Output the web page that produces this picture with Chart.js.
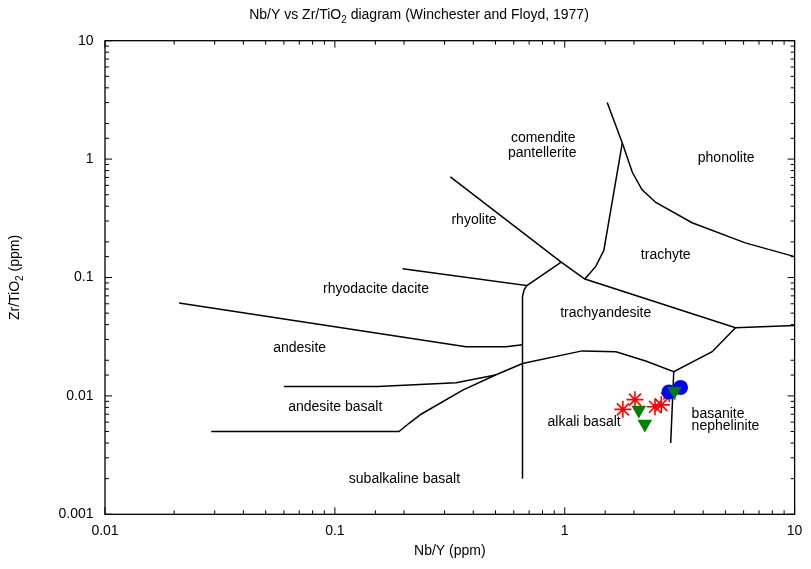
<!DOCTYPE html>
<html>
<head>
<meta charset="utf-8">
<script src="https://cdn.jsdelivr.net/npm/chart.js@4.4.1/dist/chart.umd.min.js"></script>
<style>
  html, body { margin: 0; padding: 0; background: #fff; }
</style>
</head>
<body>
<canvas id="diagram" width="811" height="569"></canvas>
<script>
// sample points (Nb/Y, Zr/TiO2)
const starNbY = [1.79, 2.02, 2.47, 2.63, 2.85];
const starZrTi = [0.0077, 0.0093, 0.0081, 0.0084, 0.0105];
const circleNbY = [2.84, 3.19];
const circleZrTi = [0.0108, 0.0118];
const triNbY = [2.10, 2.23, 3.0];
const triZrTi = [0.0076, 0.0058, 0.011];

// field boundaries, [Nb/Y, Zr/TiO2] vertices
const rhyoliteLine = [[0.318, 0.708], [0.965, 0.135], [1.223, 0.097], [5.53, 0.0377], [10, 0.0393]];
const rhyodaciteLine = [[0.197, 0.1185], [0.684, 0.0855], [0.666, 0.079], [0.655, 0.069], [0.655, 0.002]];
const rhyodaciteLink = [[0.684, 0.0855], [0.965, 0.135]];
const andesiteLine = [[0.021, 0.061], [0.372, 0.026], [0.555, 0.026], [0.655, 0.027]];
const subalkalineLine = [[0.029, 0.005], [0.19, 0.005], [0.211, 0.0059], [0.237, 0.007], [0.36, 0.0112],
  [0.50, 0.015], [0.655, 0.0188], [1.19, 0.024], [1.67, 0.0236], [2.25, 0.0197], [2.98, 0.016],
  [4.38, 0.0236], [5.53, 0.0377]];
const andesiteBasaltLine = [[0.06, 0.012], [0.154, 0.012], [0.337, 0.0129], [0.50, 0.015]];
const basaniteLine = [[2.98, 0.016], [2.89, 0.004]];
const trachyteLine = [[1.223, 0.097], [1.365, 0.124], [1.48, 0.17], [1.78, 1.37]];
const phonoliteLine = [[1.53, 3.0], [1.78, 1.37], [1.97, 0.77], [2.17, 0.55], [2.49, 0.43],
  [3.58, 0.29], [6.1, 0.196], [10, 0.15]];
const boundaries = [rhyoliteLine, rhyodaciteLine, rhyodaciteLink, andesiteLine, subalkalineLine,
  andesiteBasaltLine, basaniteLine, trachyteLine, phonoliteLine];

// field names and where they sit
const fieldNames = ['comendite', 'pantellerite', 'phonolite', 'rhyolite', 'trachyte', 'rhyodacite dacite',
  'trachyandesite', 'andesite', 'andesite basalt', 'alkali basalt', 'basanite', 'nephelinite', 'subalkaline basalt'];
const fieldNbY = [0.806, 0.798, 5.04, 0.403, 2.75, 0.151, 1.508, 0.0703, 0.1004, 1.214, 3.564, 3.564, 0.2008];
const fieldZrTi = [1.486, 1.094, 0.992, 0.298, 0.1506, 0.0787, 0.0493, 0.0248, 0.00784, 0.00585, 0.00688, 0.00541, 0.00194];
const fieldAlign = ['center', 'center', 'center', 'center', 'center', 'center', 'center', 'center',
  'center', 'center', 'left', 'left', 'center'];

// title and y label, [text, subscript?]
const titleParts = [['Nb/Y vs Zr/TiO', false], ['2', true], [' diagram (Winchester and Floyd, 1977)', false]];
const yTitleParts = [['Zr/TiO', false], ['2', true], [' (ppm)', false]];

const FONT = '"Liberation Sans", Arial, Helvetica, sans-serif';
Chart.defaults.font.family = FONT;
Chart.defaults.font.size = 14;
Chart.defaults.color = '#000';

function isDecade(v) {
  const e = Math.log10(v);
  return Math.abs(e - Math.round(e)) < 1e-9;
}
function decadeLabel(v) {
  return isDecade(v) ? String(Number(v.toPrecision(1))) : '';
}
function toPoints(xs, ys) {
  return xs.map((x, i) => ({ x: x, y: ys[i] }));
}

// text with a subscript, centred on (0,0) of the current transform, baseline at 0
function drawSubText(ctx, parts) {
  const widths = parts.map(p => {
    ctx.font = (p[1] ? '10px ' : '14px ') + FONT;
    return ctx.measureText(p[0]).width;
  });
  let x = -widths.reduce((a, b) => a + b, 0) / 2;
  ctx.textAlign = 'left';
  ctx.textBaseline = 'alphabetic';
  parts.forEach((p, i) => {
    ctx.font = (p[1] ? '10px ' : '14px ') + FONT;
    ctx.fillText(p[0], x, p[1] ? 3.5 : 0);
    x += widths[i];
  });
}

const titles = {
  id: 'titles',
  afterDraw(chart) {
    const { ctx, chartArea: a } = chart;
    ctx.save();
    ctx.fillStyle = '#000';
    ctx.translate(419, 19);
    drawSubText(ctx, titleParts);
    ctx.restore();
    ctx.save();
    ctx.fillStyle = '#000';
    ctx.translate(19, (a.top + a.bottom) / 2);
    ctx.rotate(-Math.PI / 2);
    drawSubText(ctx, yTitleParts);
    ctx.restore();
  }
};

// gnuplot style frame with inward ticks on all four sides
const frameTicks = {
  id: 'frameTicks',
  afterDraw(chart) {
    const { ctx, chartArea: a, scales: { x, y } } = chart;
    ctx.save();
    ctx.strokeStyle = '#000';
    ctx.lineWidth = 1.3;
    ctx.strokeRect(a.left, a.top, a.right - a.left, a.bottom - a.top);
    ctx.lineWidth = 1;
    ctx.beginPath();
    x.ticks.forEach(t => {
      const px = x.getPixelForValue(t.value);
      const len = isDecade(t.value) ? 7 : 4;
      ctx.moveTo(px, a.bottom); ctx.lineTo(px, a.bottom - len);
      ctx.moveTo(px, a.top); ctx.lineTo(px, a.top + len);
    });
    y.ticks.forEach(t => {
      const py = y.getPixelForValue(t.value);
      const len = isDecade(t.value) ? 7 : 4;
      ctx.moveTo(a.left, py); ctx.lineTo(a.left + len, py);
      ctx.moveTo(a.right, py); ctx.lineTo(a.right - len, py);
    });
    ctx.stroke();
    ctx.restore();
  }
};

// field names drawn at their data positions
const fieldLabels = {
  id: 'fieldLabels',
  afterDatasetsDraw(chart) {
    const { ctx, scales: { x, y } } = chart;
    ctx.save();
    ctx.font = '14px ' + FONT;
    ctx.fillStyle = '#000';
    ctx.textBaseline = 'middle';
    fieldNames.forEach((name, i) => {
      ctx.textAlign = fieldAlign[i];
      ctx.fillText(name, x.getPixelForValue(fieldNbY[i]), y.getPixelForValue(fieldZrTi[i]) - 1);
    });
    ctx.restore();
  }
};

const lineSets = boundaries.map(b => ({
  type: 'line',
  data: b.map(p => ({ x: p[0], y: p[1] })),
  borderColor: '#000',
  borderWidth: 1.5,
  pointRadius: 0,
  fill: false,
  tension: 0,
  order: 10
}));

new Chart(document.getElementById('diagram'), {
  type: 'scatter',
  data: {
    datasets: [
      ...lineSets,
      {
        data: toPoints(starNbY, starZrTi),
        pointStyle: 'star',
        pointRadius: 8.5,
        borderColor: '#ff0000',
        backgroundColor: '#ff0000',
        pointBorderWidth: 1.6,
        order: 3
      },
      {
        data: toPoints(circleNbY, circleZrTi),
        pointStyle: 'circle',
        pointRadius: 7.5,
        borderColor: '#0000ff',
        backgroundColor: '#0000ff',
        pointBorderWidth: 0,
        order: 2
      },
      {
        data: toPoints(triNbY, triZrTi),
        pointStyle: 'triangle',
        rotation: 180,
        pointRadius: 8.5,
        borderColor: '#007f00',
        backgroundColor: '#007f00',
        pointBorderWidth: 0,
        order: 1
      }
    ]
  },
  options: {
    responsive: false,
    animation: false,
    events: [],
    layout: { padding: { left: 0, right: 13.5, top: 40.7, bottom: 0 } },
    plugins: {
      legend: { display: false },
      tooltip: { enabled: false },
      title: { display: false }
    },
    scales: {
      x: {
        type: 'logarithmic',
        min: 0.01,
        max: 10,
        grid: { display: false, drawTicks: false },
        border: { display: false },
        ticks: { autoSkip: false, maxRotation: 0, padding: 8.6, callback: v => decadeLabel(v) },
        title: { display: true, text: 'Nb/Y (ppm)', padding: { top: 0, bottom: 9.6 } },
        afterFit(s) { s.height = 54.7; }
      },
      y: {
        type: 'logarithmic',
        min: 0.001,
        max: 10,
        grid: { display: false, drawTicks: false },
        border: { display: false },
        ticks: { autoSkip: false, padding: 11.5, callback: v => decadeLabel(v) },
        afterFit(s) { s.width = 105; }
      }
    }
  },
  plugins: [fieldLabels, frameTicks, titles]
});
</script>
</body>
</html>
